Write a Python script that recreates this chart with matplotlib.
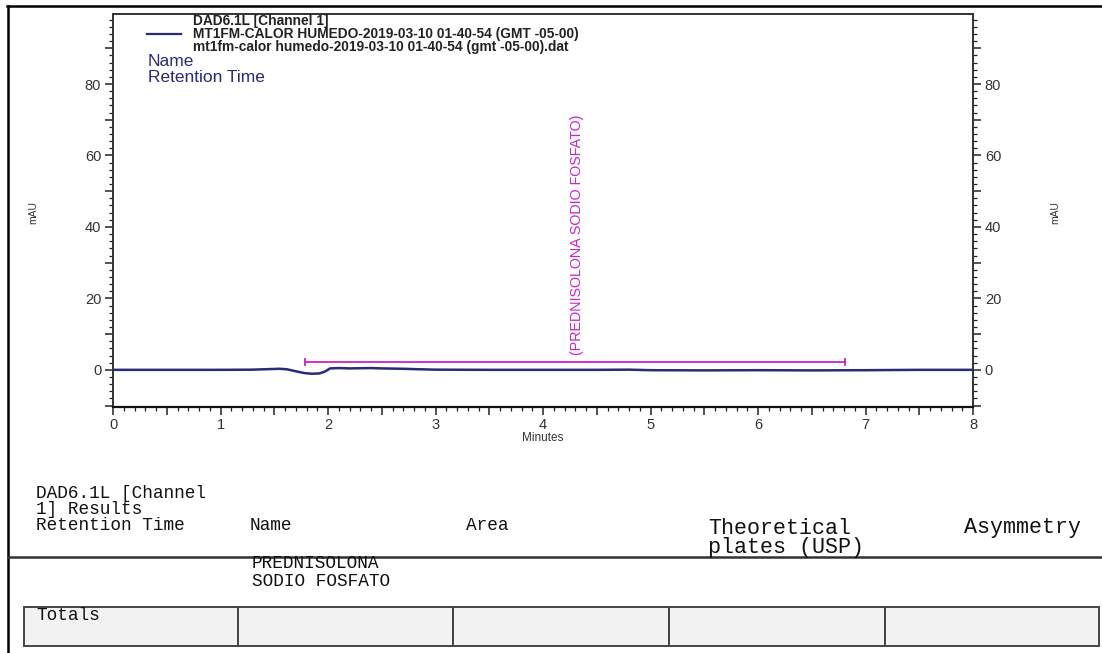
import matplotlib
matplotlib.use("Agg")
import matplotlib.pyplot as plt
from matplotlib.ticker import MultipleLocator, FuncFormatter
from matplotlib.patches import Rectangle
from matplotlib.lines import Line2D

# ---------------- data ----------------
time_min = [0.0, 0.3, 0.6, 1.0, 1.3, 1.45, 1.55, 1.62, 1.7, 1.78, 1.85, 1.92, 1.97,
            2.02, 2.1, 2.2, 2.3, 2.4, 2.5, 2.6, 2.7, 2.8, 3.0, 3.5, 4.0, 4.5, 4.8,
            5.0, 5.5, 6.0, 6.5, 7.0, 7.5, 8.0]
signal_mau = [0.0, 0.0, 0.0, 0.0, 0.05, 0.2, 0.3, 0.15, -0.4, -0.9, -1.1, -1.0, -0.5,
              0.4, 0.5, 0.4, 0.45, 0.5, 0.4, 0.35, 0.3, 0.2, 0.05, 0.0, 0.0, 0.0, 0.05,
              -0.1, -0.15, -0.1, -0.15, -0.1, 0.0, 0.0]
peak_name = "PREDNISOLONA SODIO FOSFATO"
peak_start, peak_end, peak_level = 1.79, 6.81, 2.2
peak_label_pos = 4.32
x_ticks = [0, 1, 2, 3, 4, 5, 6, 7, 8]
y_ticks = [0, 20, 40, 60, 80]
legend_lines = ["DAD6.1L [Channel 1]",
                "MT1FM-CALOR HUMEDO-2019-03-10 01-40-54 (GMT -05-00)",
                "mt1fm-calor humedo-2019-03-10 01-40-54 (gmt -05-00).dat"]
table_title = ["DAD6.1L [Channel", "1] Results"]
table_columns = ["Retention Time", "Name", "Area", "Theoretical\nplates (USP)", "Asymmetry"]
row_name = ["PREDNISOLONA", "SODIO FOSFATO"]
totals_label = "Totals"

# ---------------- figure ----------------
W, H = 1102, 653
fig = plt.figure(figsize=(W / 100, H / 100), dpi=100)
fig.patch.set_facecolor("white")

def fx(px):
    return px / W

def fy(py):
    return 1 - py / H

SANS = "Liberation Sans"
MONO = "Liberation Mono"
NAVY = "#2a2a78"
MAG = "#cc22cc"

ax = fig.add_axes([fx(113), fy(407), fx(973) - fx(113), fy(14) - fy(407)])
ax.plot(time_min, signal_mau, color=NAVY, lw=1.8, solid_capstyle="round")
ax.set_xlim(0, 8)
ax.set_ylim(-10.4, 99.6)

# peak marker
ax.plot([peak_start, peak_end], [peak_level, peak_level], color=MAG, lw=1.3)
ax.plot([peak_start, peak_start], [peak_level - 0.9, peak_level + 0.9], color=MAG, lw=1.3)
ax.plot([peak_end, peak_end], [peak_level - 0.9, peak_level + 0.9], color=MAG, lw=1.3)
ax.text(peak_label_pos, 4.2, "(" + peak_name + ")", rotation=90, color=MAG,
        fontsize=10.3, family=SANS, ha="center", va="bottom")

# ticks
ax.xaxis.set_major_locator(MultipleLocator(0.5))
ax.xaxis.set_minor_locator(MultipleLocator(0.1))
ax.yaxis.set_major_locator(MultipleLocator(10))
ax.yaxis.set_minor_locator(MultipleLocator(2))
ax.xaxis.set_major_formatter(FuncFormatter(
    lambda v, p: f"{int(round(v))}" if abs(v - round(v)) < 1e-6 and round(v) in x_ticks else ""))
ax.yaxis.set_major_formatter(FuncFormatter(
    lambda v, p: f"{int(round(v))}" if abs(v - round(v)) < 1e-6 and int(round(v)) in y_ticks else ""))
ax.tick_params(axis="both", which="both", direction="out", colors="#222222",
               labelcolor="#333333")
ax.tick_params(axis="y", which="both", left=True, right=True, labelleft=True, labelright=True)
ax.tick_params(axis="x", which="both", top=False, bottom=True)
ax.tick_params(which="major", length=5.5, width=1.1, labelsize=10.5, pad=3)
ax.tick_params(which="minor", length=2.8, width=0.9)
ax.tick_params(axis="x", which="major", pad=2.5)
for lab in ax.get_xticklabels() + ax.get_yticklabels():
    lab.set_family(SANS)
for s in ax.spines.values():
    s.set_color("#333333")
    s.set_linewidth(1.4)
ax.spines["bottom"].set_color("#111111")
ax.spines["bottom"].set_linewidth(1.6)

fig.text(fx(543), fy(438), "Minutes", fontsize=8.5, family=SANS, color="#333333",
         ha="center", va="center")
fig.text(fx(33), fy(213), "mAU", fontsize=7.5, family=SANS, color="#333333",
         rotation=90, ha="center", va="center")
fig.text(fx(1055), fy(213), "mAU", fontsize=7.5, family=SANS, color="#333333",
         rotation=90, ha="center", va="center")

# legend
fig.add_artist(Line2D([fx(147), fx(181)], [fy(34), fy(34)], color=NAVY, lw=1.6))
for i, line in enumerate(legend_lines):
    fig.text(fx(193), fy(21 + 13 * i), line, fontsize=9.9, family=SANS,
             weight="bold", color="#222222", ha="left", va="center")
fig.text(fx(148), fy(62), "Name", fontsize=12.5, family=SANS, color=NAVY,
         ha="left", va="center")
fig.text(fx(148), fy(78), "Retention Time", fontsize=12.5, family=SANS, color=NAVY,
         ha="left", va="center")

# outer frame
fig.add_artist(Line2D([fx(8), fx(8)], [fy(6), fy(655)], color="black", lw=1.8))
fig.add_artist(Line2D([fx(7), fx(1104)], [fy(6), fy(6)], color="black", lw=1.8))

# results table
MFS = 12.8
for i, line in enumerate(table_title):
    fig.text(fx(36), fy(494 + 16 * i), line, fontsize=MFS, family=MONO,
             color="#111111", ha="left", va="center")
col_x = [36, 250, 466, 708, 964]
col_fs = [MFS, MFS, MFS, 15.6, 15.6]
for j, (cx, name) in enumerate(zip(col_x, table_columns)):
    parts = name.split("\n")
    y0 = 526 if col_fs[j] < 14 else 528
    for k, part in enumerate(parts):
        fig.text(fx(cx), fy(y0 + 19 * k), part, fontsize=col_fs[j], family=MONO,
                 color="#111111", ha="left", va="center")
fig.add_artist(Line2D([fx(8), fx(1104)], [fy(557), fy(557)], color="#333333", lw=1.8))
for k, part in enumerate(row_name):
    fig.text(fx(252), fy(564 + 17 * k), part, fontsize=MFS, family=MONO,
             color="#111111", ha="left", va="center")

cell_edges = [24, 238, 453, 669, 885, 1099]
for a, b in zip(cell_edges[:-1], cell_edges[1:]):
    fig.add_artist(Rectangle((fx(a), fy(646)), fx(b) - fx(a), fy(607) - fy(646),
                             transform=fig.transFigure, facecolor="#f2f2f2",
                             edgecolor="#444444", lw=1.4))
fig.text(fx(36), fy(616), totals_label, fontsize=MFS, family=MONO,
         color="#111111", ha="left", va="center")

fig.savefig("out.png", dpi=100)
